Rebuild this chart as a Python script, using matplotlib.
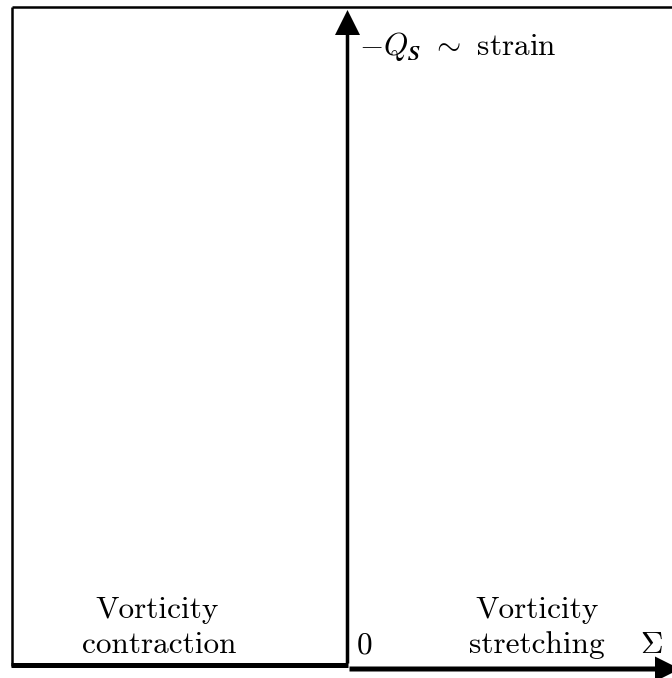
import matplotlib.pyplot as plt

plt.rcParams["mathtext.fontset"] = "cm"

W, H = 672, 678

# schematic geometry (pixel units, y downwards)
BOX_LEFT, BOX_TOP = 12, 7
ORIGIN = (347.5, 665.5)
Y_TIP = 10
X_TIP = 680
HEAD = 25

LEFT_LABEL = ["Vorticity", "contraction"]
RIGHT_LABEL = ["Vorticity", "stretching"]
LEFT_X, RIGHT_X = 157, 537
LINE1_Y, LINE2_Y = 618, 653

fig = plt.figure(figsize=(W / 100, H / 100), dpi=100)
ax = fig.add_axes([0, 0, 1, 1])
ax.set_xlim(0, W)
ax.set_ylim(H, 0)
ax.axis("off")

# thin frame
ax.plot([BOX_LEFT, W + 5], [BOX_TOP, BOX_TOP], color="black", lw=1.8,
        solid_capstyle="butt")
ax.plot([BOX_LEFT, BOX_LEFT], [BOX_TOP, ORIGIN[1]], color="black", lw=1.8,
        solid_capstyle="butt")

# thick bottom line, left of origin
ax.plot([BOX_LEFT - 1, ORIGIN[0]], [ORIGIN[1] - 1, ORIGIN[1] - 1],
        color="black", lw=3.6, solid_capstyle="butt")

# vertical axis arrow
ax.arrow(ORIGIN[0], ORIGIN[1] - 2, 0, Y_TIP - ORIGIN[1] + 2, width=3.5,
         head_width=HEAD, head_length=HEAD, length_includes_head=True,
         color="black", lw=0)
# horizontal axis arrow
ax.arrow(ORIGIN[0] + 2, ORIGIN[1] + 3.5, X_TIP - ORIGIN[0] - 2, 0, width=5,
         head_width=HEAD, head_length=HEAD, length_includes_head=True,
         color="black", lw=0)

fs = 22.5
ax.text(359, 55, r"$-Q_{\boldsymbol{S}}\ \sim$ strain", fontsize=fs,
        family="cmr10", ha="left", va="baseline")
ax.text(LEFT_X, LINE1_Y, LEFT_LABEL[0], fontsize=fs, family="cmr10",
        ha="center", va="baseline")
ax.text(LEFT_X + 2, LINE2_Y, LEFT_LABEL[1], fontsize=fs, family="cmr10",
        ha="center", va="baseline")
ax.text(RIGHT_X, LINE1_Y, RIGHT_LABEL[0], fontsize=fs, family="cmr10",
        ha="center", va="baseline")
ax.text(RIGHT_X, LINE2_Y, RIGHT_LABEL[1], fontsize=fs, family="cmr10",
        ha="center", va="baseline")
ax.text(357, 653, "0", fontsize=fs, family="cmr10", ha="left", va="baseline")
ax.text(640, 653, r"$\Sigma$", fontsize=fs, ha="left", va="baseline")

fig.savefig("out.png", dpi=100)
